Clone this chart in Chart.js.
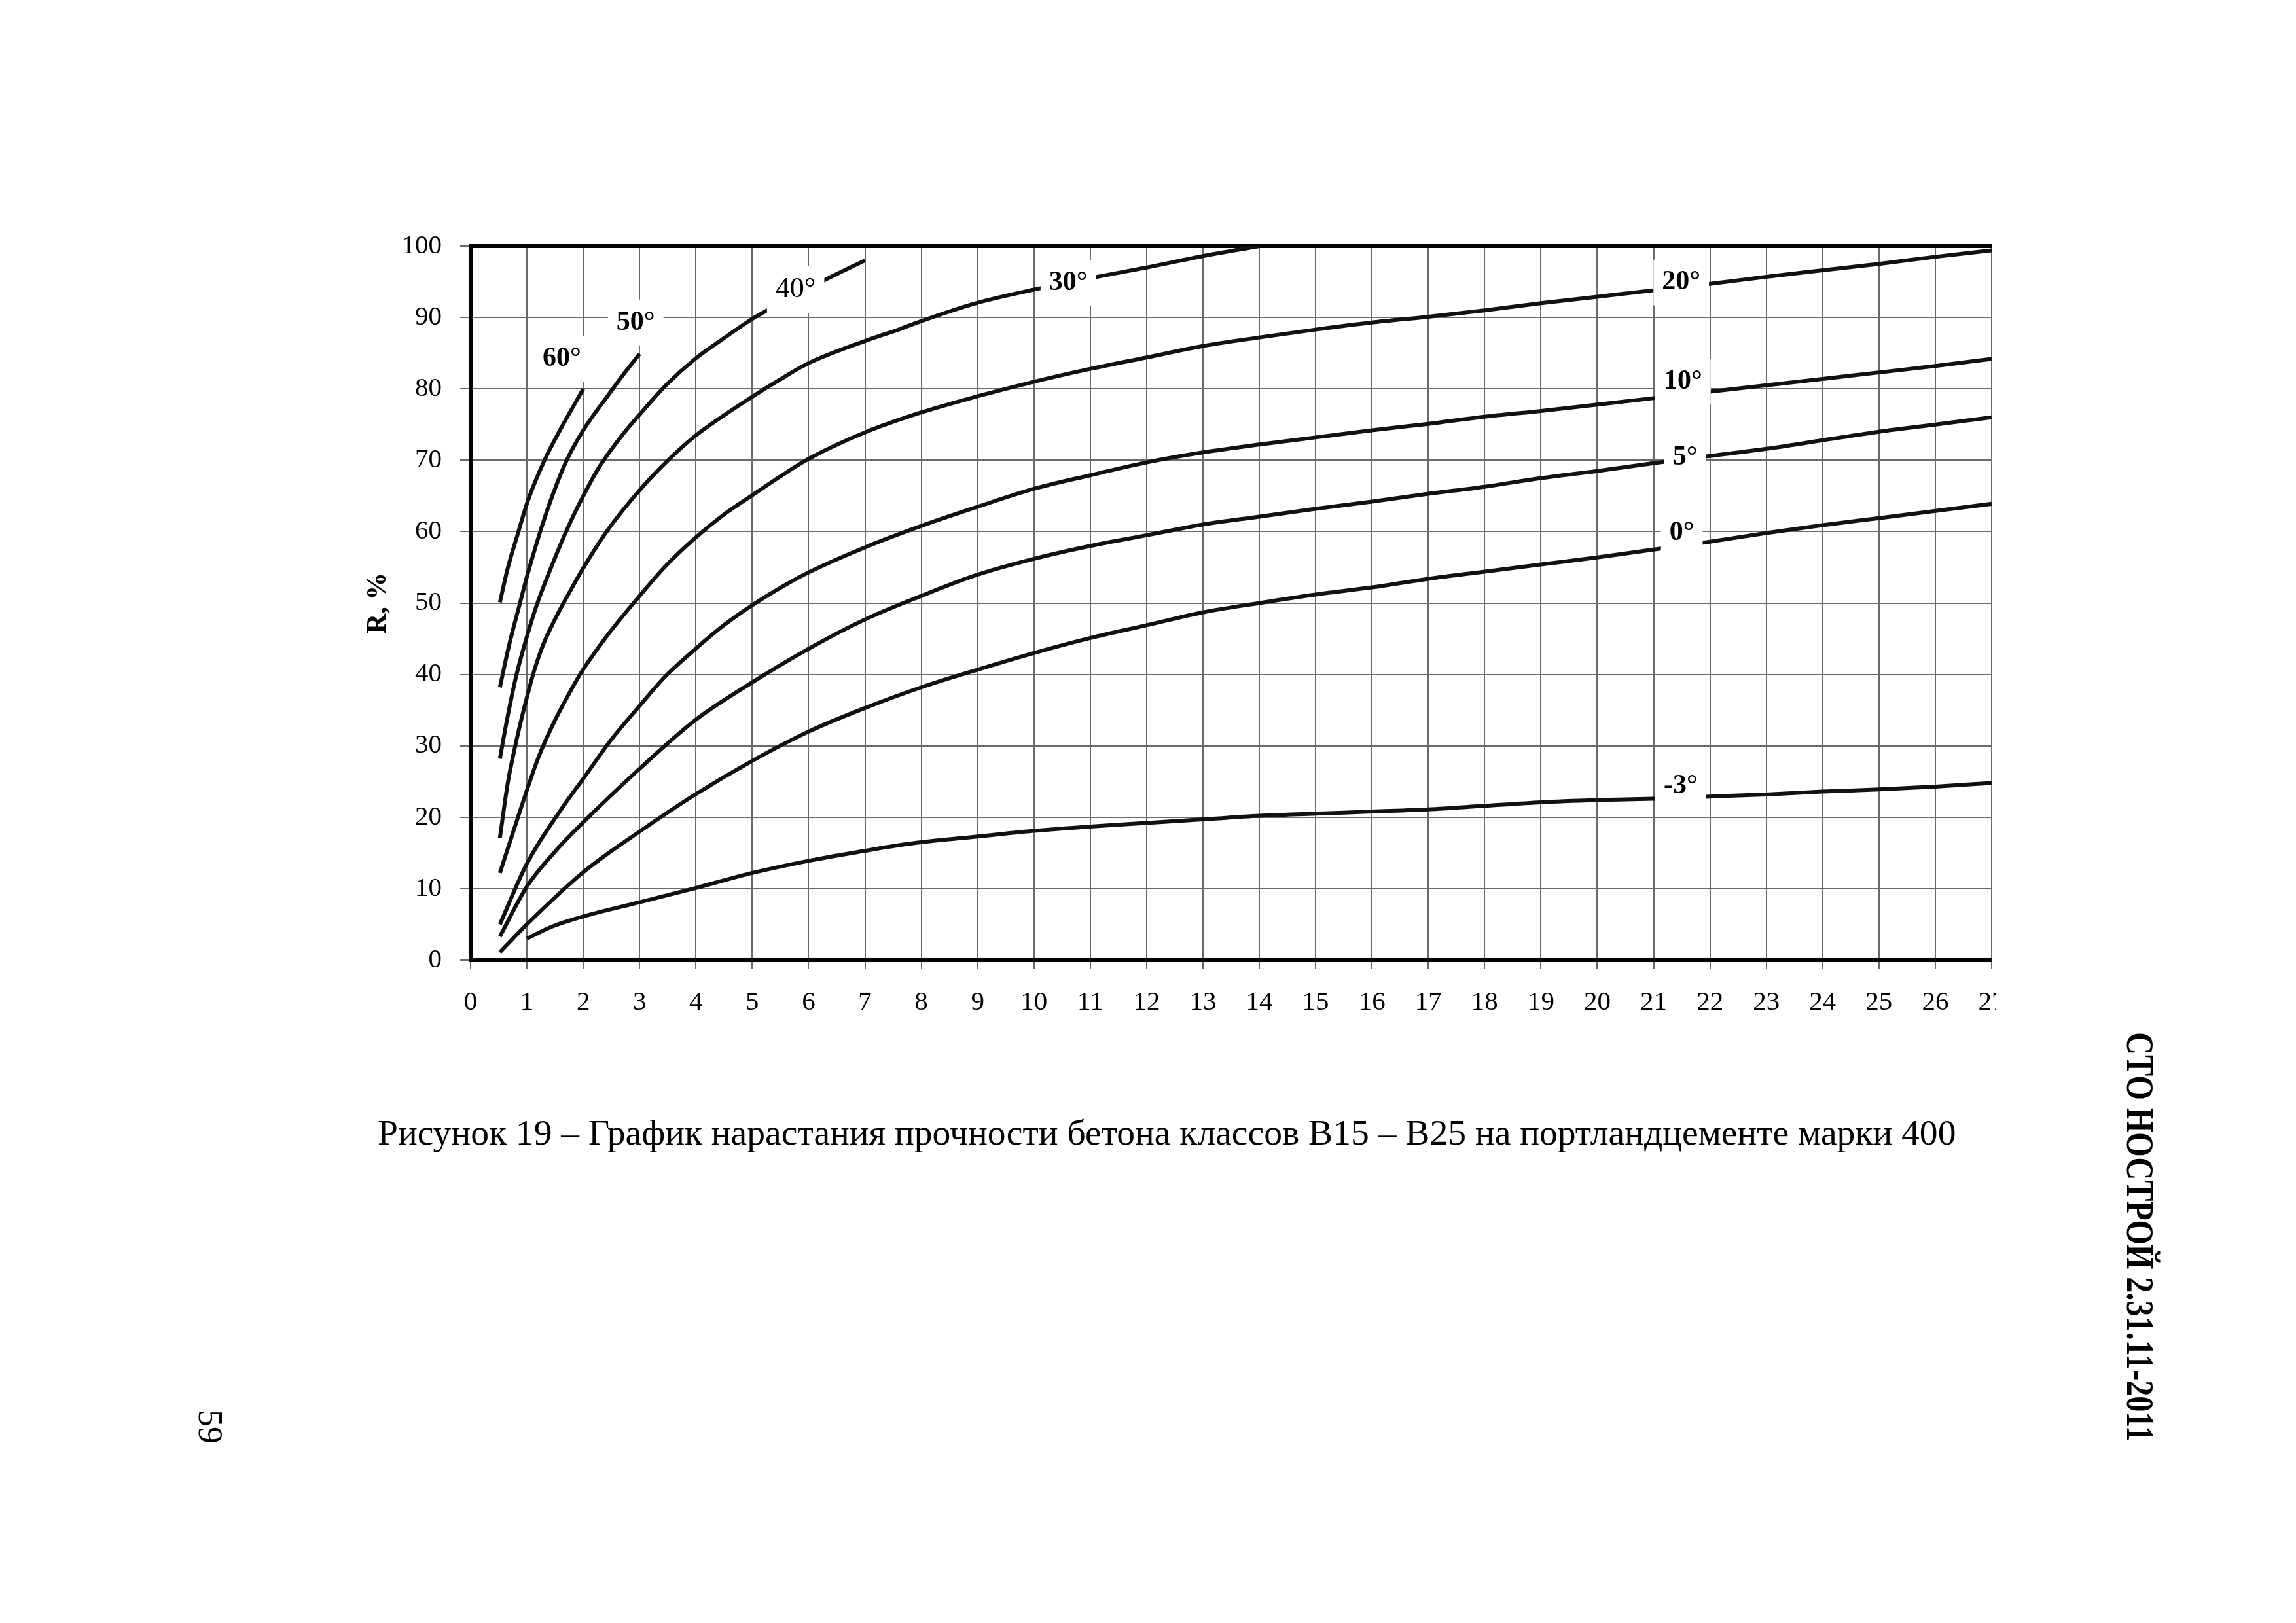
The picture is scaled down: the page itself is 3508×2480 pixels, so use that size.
<!DOCTYPE html>
<html lang="ru">
<head>
<meta charset="utf-8">
<title>Рисунок 19</title>
<script src="https://cdn.jsdelivr.net/npm/chart.js@4.4.1/dist/chart.umd.min.js"></script>
<style>
  html, body { margin:0; padding:0; background:#fff; }
  body { width:3508px; height:2480px; position:relative; overflow:hidden;
         font-family:"Liberation Serif","Times New Roman",serif; color:#000; }
  #wrap { position:absolute; left:0; top:0; width:3050px; height:1620px; }
  #caption { position:absolute; left:577px; top:1700px; font-size:54px; line-height:1; white-space:nowrap; }
  .rot { position:absolute; white-space:nowrap; line-height:1; transform-origin:50% 50%; }
  #header { font-weight:bold; font-size:60px; }
  #pagenum { font-size:52px; }
</style>
</head>
<body>
<div id="wrap"><canvas id="c"></canvas></div>
<div id="caption">Рисунок 19 – График нарастания прочности бетона классов В15 – В25 на портландцементе марки 400</div>
<div id="header" class="rot">СТО НОСТРОЙ 2.31.11-2011</div>
<div id="pagenum" class="rot">59</div>
<script>
// ---------- DATA (days, R %) ----------
const T60 = [0.52, 0.66, 0.83, 1.02, 1.33, 1.60, 2.0];
const R60 = [50.1, 54.9, 59.5, 64.4, 70.3, 74.4, 80.0];

const T50 = [0.52, 0.68, 0.87, 1.0, 1.12, 1.26, 1.45, 1.70, 2.0, 2.45, 2.70, 3.0];
const R50 = [38.2, 44.0, 49.8, 53.7, 57.0, 60.6, 65.0, 69.9, 74.2, 79.2, 81.9, 84.9];

const T40 = [0.52, 0.64, 0.81, 1.0, 1.16, 1.45, 1.74, 2.0, 2.28, 2.70, 3.0, 3.48, 3.97, 4.48, 5.0, 5.29, 6.25, 7.0];
const R40 = [28.2, 33.4, 39.8, 45.3, 49.4, 55.4, 60.8, 65.0, 69.0, 73.6, 76.4, 80.6, 84.1, 87.0, 89.8, 91.1, 95.1, 98.0];

const T30 = [0.52, 0.66, 0.79, 0.91, 1.0, 1.12, 1.29, 1.49, 1.72, 2.0, 2.45, 3.0, 3.48, 3.97, 4.48, 5.0, 5.47, 6.0, 7.0, 7.63, 8.0, 8.97, 10.0, 11.13, 12.0, 13.0, 14.0];
const R30 = [17.1, 24.8, 29.9, 34.0, 36.8, 40.3, 44.2, 47.6, 51.0, 54.9, 60.4, 65.8, 69.8, 73.3, 76.2, 78.9, 81.2, 83.6, 86.7, 88.4, 89.5, 92.0, 93.9, 95.7, 97.0, 98.6, 100.0];

const T20 = [0.52, 1.0, 1.2, 1.45, 1.72, 1.95, 2.28, 2.61, 3.0, 3.44, 3.97, 4.48, 5.0, 5.51, 6.0, 7.0, 8.0, 8.97, 10.0, 11.0, 12.0, 13, 14, 15, 16, 17, 18, 19, 20, 21, 22, 23, 24, 25, 26, 27];
const R20 = [12.2, 23.8, 28.3, 32.8, 36.9, 40.1, 43.9, 47.3, 51.0, 55.0, 59.0, 62.3, 65.1, 67.8, 70.2, 73.9, 76.7, 78.9, 81.0, 82.8, 84.4, 86.0, 87.2, 88.3, 89.3, 90.1, 91.0, 92.0, 92.9, 93.8, 94.7, 95.7, 96.6, 97.5, 98.5, 99.4];

const T10 = [0.52, 1.0, 1.66, 2.0, 2.49, 3.0, 3.44, 3.98, 4.48, 5.0, 5.6, 6.0, 7.0, 8.0, 8.97, 10.0, 11.0, 12.0, 13, 14, 15, 16, 17, 18, 19, 20, 21, 22, 23, 24, 25, 26, 27];
const R10 = [5.0, 13.5, 21.7, 25.4, 30.8, 35.6, 39.6, 43.5, 46.8, 49.7, 52.6, 54.3, 57.8, 60.8, 63.4, 66.0, 67.9, 69.7, 71.1, 72.2, 73.2, 74.2, 75.1, 76.1, 76.9, 77.8, 78.7, 79.6, 80.5, 81.4, 82.3, 83.2, 84.2];

const T5 = [0.52, 1.0, 1.5, 2.0, 3.0, 3.97, 5.0, 6.0, 7.0, 8.0, 8.97, 10.0, 11.0, 12.0, 13, 14, 15, 16, 17, 18, 19, 20, 21, 22, 23, 24, 25, 26, 27];
const R5 = [3.3, 10.3, 15.2, 19.3, 26.8, 33.5, 38.9, 43.6, 47.7, 51.0, 53.9, 56.2, 58.0, 59.5, 61.0, 62.1, 63.2, 64.2, 65.3, 66.3, 67.5, 68.5, 69.6, 70.6, 71.6, 72.8, 74.0, 75.0, 76.0];

const T0 = [0.52, 1.0, 2.0, 3.0, 3.97, 5.0, 6.0, 7.0, 8.0, 8.97, 10.0, 11.0, 12.0, 13, 14, 15, 16, 17, 18, 19, 20, 21, 22, 23, 24, 25, 26, 27];
const R0 = [1.1, 5.0, 12.3, 18.0, 23.1, 27.9, 32.0, 35.3, 38.2, 40.6, 43.0, 45.1, 46.9, 48.7, 50.0, 51.2, 52.2, 53.4, 54.4, 55.4, 56.4, 57.5, 58.6, 59.8, 60.9, 61.9, 62.9, 63.9];

const TM3 = [1.0, 1.45, 2.0, 3.0, 4.0, 5.0, 6.0, 7.0, 7.7, 8.0, 9.0, 10.0, 11.0, 12.0, 13, 14, 15, 16, 17, 18, 19, 20, 21, 22, 23, 24, 25, 26, 27];
const RM3 = [3.0, 4.7, 6.1, 8.1, 10.1, 12.2, 13.9, 15.3, 16.2, 16.5, 17.3, 18.1, 18.7, 19.2, 19.7, 20.2, 20.5, 20.8, 21.1, 21.6, 22.1, 22.4, 22.6, 22.9, 23.2, 23.6, 23.9, 24.3, 24.8];

// curve labels (text and anchor in data units)
const labelText = ['60°', '50°', '40°', '30°', '20°', '10°', '5°', '0°', '-3°'];
const labelDay  = [1.62, 2.93, 5.77, 10.61, 21.49, 21.52, 21.56, 21.50, 21.48];
const labelR    = [84.2, 89.3, 93.9, 94.85, 94.9, 81.0, 70.35, 59.8, 24.4];

const xTickLabels = Array.from({length: 28}, (_, i) => String(i));

// ---------- STYLE ----------
const FONT = "'Liberation Serif', 'Times New Roman', serif";
const GRID = '#6a6a6a';
const regularLabels = {'40°': true};

const series = [
  ['60°', T60, R60], ['50°', T50, R50], ['40°', T40, R40], ['30°', T30, R30],
  ['20°', T20, R20], ['10°', T10, R10], ['5°', T5, R5], ['0°', T0, R0], ['-3°', TM3, RM3]
];

const datasets = series.map(([name, t, r]) => ({
  label: name,
  data: t.map((d, i) => ({x: d, y: r[i]})),
  borderColor: '#111',
  borderWidth: 6,
  pointRadius: 0,
  fill: false,
  cubicInterpolationMode: 'monotone',
  borderJoinStyle: 'round',
  borderCapStyle: 'butt'
}));

const curveLabels = {
  id: 'curveLabels',
  afterDatasetsDraw(chart) {
    const {ctx, scales: {x, y}} = chart;
    ctx.save();
    for (let i = 0; i < labelText.length; i++) {
      const px = x.getPixelForValue(labelDay[i]);
      const py = y.getPixelForValue(labelR[i]);
      const regular = regularLabels[labelText[i]];
      const size = regular ? 44 : 42;
      ctx.font = (regular ? '' : 'bold ') + size + 'px ' + FONT;
      const w = ctx.measureText(labelText[i]).width;
      const padX = 13, padY = 14;
      ctx.fillStyle = '#fff';
      ctx.fillRect(px - w / 2 - padX, py - size / 2 - padY, w + 2 * padX, size + 2 * padY);
      ctx.fillStyle = '#000';
      ctx.textAlign = 'center';
      ctx.textBaseline = 'middle';
      ctx.fillText(labelText[i], px, py);
    }
    ctx.restore();
  }
};

new Chart(document.getElementById('c'), {
  type: 'line',
  data: { datasets },
  options: {
    responsive: true,
    maintainAspectRatio: false,
    animation: false,
    devicePixelRatio: 1,
    layout: { padding: { left: 549, top: 376, right: 7, bottom: 0 } },
    plugins: { legend: { display: false }, tooltip: { enabled: false } },
    scales: {
      x: {
        type: 'linear', min: 0, max: 27,
        ticks: {
          stepSize: 1, maxTicksLimit: 40, autoSkip: false, maxRotation: 0,
          color: '#000', padding: 28,
          font: { family: FONT, size: 41 },
          callback: (v) => xTickLabels[v] !== undefined ? xTickLabels[v] : v
        },
        grid: { color: GRID, lineWidth: 2, tickLength: 13, tickColor: GRID, tickWidth: 2 },
        border: { display: true, color: '#000', width: 6 },
        afterFit(s) { s.height = 153; s.paddingLeft = 0; s.paddingRight = 0; s.paddingTop = 0; s.paddingBottom = 0; }
      },
      y: {
        type: 'linear', min: 0, max: 100,
        ticks: { stepSize: 10, color: '#000', padding: 28, font: { family: FONT, size: 41 } },
        grid: {
          color: c => (c.tick && c.tick.value === 100) ? '#000' : GRID,
          lineWidth: c => (c.tick && c.tick.value === 100) ? 6 : 2,
          tickLength: 16, tickColor: GRID, tickWidth: 2
        },
        border: { display: true, color: '#000', width: 6 },
        title: { display: true, text: 'R, %', color: '#000', font: { family: FONT, size: 42, weight: 'bold' }, padding: { top: 4, bottom: 4 } },
        afterFit(s) { s.width = 170; s.paddingTop = 0; s.paddingBottom = 0; s.paddingLeft = 0; s.paddingRight = 0; }
      }
    }
  },
  plugins: [curveLabels]
});

// ---------- page texts layout ----------
(function () {
  const cap = document.getElementById('caption');
  const fs = parseFloat(getComputedStyle(cap).fontSize);
  const w = cap.getBoundingClientRect().width;
  cap.style.fontSize = (fs * 2412 / w) + 'px';
  const h = cap.getBoundingClientRect().height;
  cap.style.top = (1731 - h / 2) + 'px';

  function placeRot(el, cx, cy, length) {
    const w = el.offsetWidth, h = el.offsetHeight;
    const s = length ? length / w : 1;
    el.style.left = (cx - w / 2) + 'px';
    el.style.top = (cy - h / 2) + 'px';
    el.style.transform = 'rotate(90deg) scaleX(' + s + ')';
  }
  placeRot(document.getElementById('header'), 3270, 1890, 626);
  placeRot(document.getElementById('pagenum'), 321, 2180);
})();
</script>
</body>
</html>
